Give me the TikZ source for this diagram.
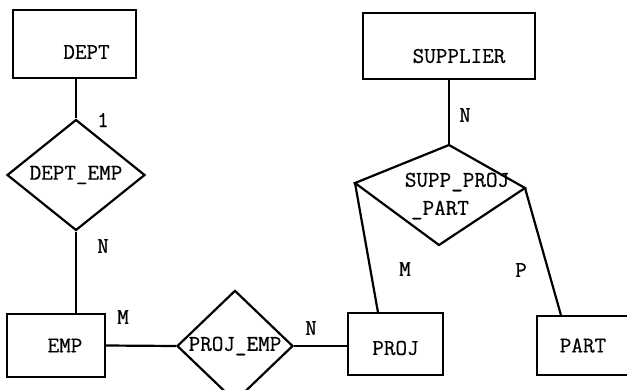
\documentclass[tikz,border=0pt]{standalone}
\usepackage{fontspec}
\newfontfamily\twfont{Latin Modern Mono}[FakeBold=0.6]
\usetikzlibrary{shapes.geometric,calc}
\begin{document}
\begin{tikzpicture}[x=1pt,y=-1pt,line width=2.2pt,
  font=\twfont\fontsize{22.5}{25}\selectfont,
  ent/.style={draw,rectangle,inner sep=0pt},
  rel/.style={draw,diamond,inner sep=0pt},
  card/.style={inner sep=0pt}]
\useasboundingbox (0,0) rectangle (627,389);
% entities
\node[ent,minimum width=123pt,minimum height=68pt,label={[shift={(12,8)}]center:DEPT}] (dept) at (74.5,44) {};
\node[ent,minimum width=172pt,minimum height=66pt,label={[shift={(10,10)}]center:SUPPLIER}] (supplier) at (449,46) {};
\node[ent,minimum width=98pt,minimum height=63pt,label={[shift={(9,0)}]center:EMP}] (emp) at (56,345.5) {};
\node[ent,minimum width=95pt,minimum height=62pt,label={[shift={(0,4)}]center:PROJ}] (proj) at (395.5,344) {};
\node[ent,minimum width=92pt,minimum height=59pt] (part) at (583,345.5) {PART};
% relationships
\node[rel,minimum width=138pt,minimum height=80pt] (de) at (76,175) {DEPT\_EMP};
\node[rel,minimum width=116pt,minimum height=86pt] (pe) at (235,346) {PROJ\_EMP};
\coordinate (sT) at (449,145);
\coordinate (sR) at (525,188);
\coordinate (sB) at (439,245);
\coordinate (sL) at (355,183);
\draw (sT) -- (sR) -- (sB) -- (sL) -- cycle;
\node[card] (spp1) at (457,182) {SUPP\_PROJ};
\node[card] (spp2) at (440,210) {\_PART};
% connectors
\draw (de.north) -- (de.north |- dept.south);
\draw (de.south) -- (de.south |- emp.north);
\draw (emp.east) -- (pe.west);
\draw (pe.east) -- (pe.east -| proj.west);
\draw (sT) -- (sT |- supplier.south);
\draw (sL) -- ([xshift=31pt]proj.north west);
\draw (sR) -- ([xshift=25pt]part.north west);
% cardinalities
\node[card] (c1) at (103,120) {1};
\node[card] (c2) at (103,246) {N};
\node[card] (c3) at (123,317) {M};
\node[card] (c4) at (311,328) {N};
\node[card] (c5) at (465,115) {N};
\node[card] (c6) at (405,269) {M};
\node[card] (c7) at (521,270) {P};
\end{tikzpicture}
\end{document}
